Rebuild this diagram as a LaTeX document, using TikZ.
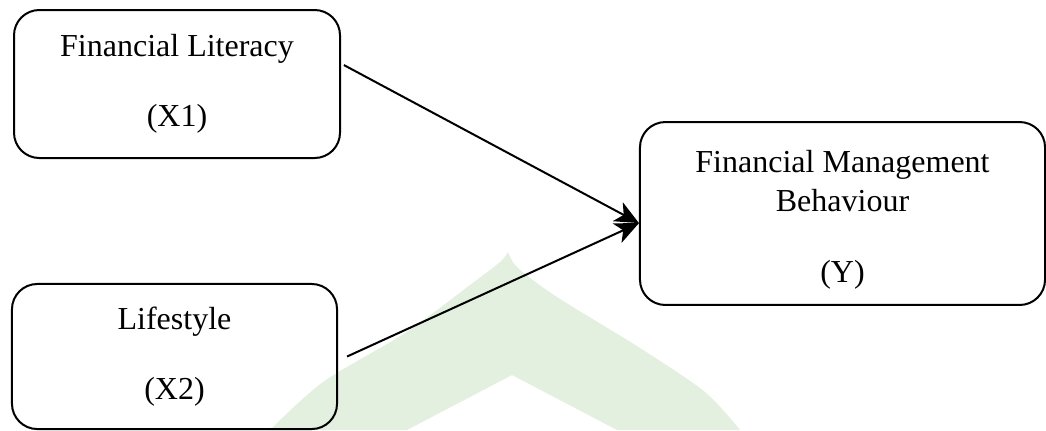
\documentclass[tikz,border=0pt]{standalone}
\usepackage{fontspec}
\setmainfont{Liberation Serif}
\usetikzlibrary{arrows.meta}

\definecolor{watermark}{RGB}{227,240,224}

\tikzset{
    varbox/.style={draw, line width=0.75pt, rounded corners=9.5pt, align=center,
        font=\fontsize{12}{14.6}\selectfont, inner sep=0pt},
    effect/.style={line width=0.75pt, -{Stealth[length=9pt,width=8pt,inset=2.5pt]}}
}

\begin{document}
\begin{tikzpicture}[x=0.375pt, y=0.375pt]

    \useasboundingbox (0,0) rectangle (1046,-430);

    % watermark in the background
    \fill [watermark] plot [smooth] coordinates {(270,-430) (323,-382) (405,-333) (470,-285) (500,-262) (508,-252)}
        -- plot [smooth] coordinates {(508,-252) (518,-268) (557,-297) (640,-348) (705,-392) (740,-430)}
        -- (617,-430) -- (512,-375) -- (407,-430) -- cycle;

    % variables
    \node [varbox, minimum width=122.25pt, minimum height=55.5pt] (lit) at (177,-84)
        {Financial Literacy\\[11.7pt](X1)};
    \node [varbox, minimum width=121.9pt, minimum height=54.4pt] (life) at (174.5,-356.5)
        {Lifestyle\\[11.7pt](X2)};
    \node [varbox, minimum width=151.9pt, minimum height=68.6pt] (fmb) at (842.5,-213.5)
        {\rule{0pt}{13pt}Financial Management\\Behaviour\\[12pt](Y)};

    % paths
    \draw [effect] ([xshift=1.1pt,yshift=7.1pt]lit.east) -- ([yshift=-3.6pt]fmb.west);
    \draw [effect] ([xshift=3.4pt]life.east) -- ([yshift=-3.6pt]fmb.west);

\end{tikzpicture}
\end{document}
